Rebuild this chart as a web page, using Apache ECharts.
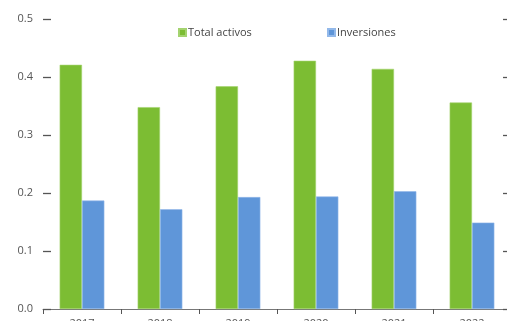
<!DOCTYPE html>
<html><head><meta charset="utf-8">
<script src="https://cdn.jsdelivr.net/npm/echarts@6/dist/echarts.min.js"></script>
<style>html,body{margin:0;padding:0;background:#fff}#c{width:507px;height:321px}</style>
</head><body><div id="c"></div>
<script>
const categories = ['2017','2018','2019','2020','2021','2022'];
const totalActivos = [0.421, 0.348, 0.384, 0.428, 0.414, 0.356];
const inversiones = [0.187, 0.172, 0.193, 0.194, 0.203, 0.149];
const yTicks = [0, 0.1, 0.2, 0.3, 0.4, 0.5];

const chart = echarts.init(document.getElementById('c'), null, {renderer:'canvas'});
const font = 'Open Sans';
const yAxisBase = {
  type:'value', min:0, max:0.5, interval:0.1,
  axisLine:{show:false}, splitLine:{show:false},
  axisTick:{show:true, inside:true, length:8, lineStyle:{color:'#555', width:1.3}}
};
chart.setOption({
  animation:false,
  textStyle:{fontFamily:font},
  legend:[
    {data:['Total activos'], left:173, top:22, itemWidth:7, itemHeight:7, icon:'rect', itemGap:2,
     textStyle:{fontFamily:font, fontSize:11, color:'#444', padding:[0,0,0,-3]}},
    {data:['Inversiones'], left:322, top:22, itemWidth:7, itemHeight:7, icon:'rect', itemGap:2,
     textStyle:{fontFamily:font, fontSize:11, color:'#444', padding:[0,0,0,-3]}}
  ],
  grid:{left:43, top:19, width:468, height:290, containLabel:false, outerBoundsMode:'none'},
  xAxis:{type:'category', data:categories,
    axisLine:{lineStyle:{color:'#777', width:1}},
    axisTick:{show:true, length:5, lineStyle:{color:'#555'}},
    axisLabel:{fontFamily:font, fontSize:11, color:'#555', margin:9}},
  yAxis:[
    Object.assign({}, yAxisBase, {position:'left',
      axisLabel:{fontFamily:font, fontSize:11, color:'#555', margin:10,
        formatter:v=>yTicks.includes(Math.round(v*10)/10)?v.toFixed(1):''}}),
    Object.assign({}, yAxisBase, {position:'right', axisLabel:{show:false}})
  ],
  series:[
    {name:'Total activos', type:'bar', data:totalActivos, barGap:'0%', barCategoryGap:'42.7%',
     itemStyle:{color:'#7cbd33', borderColor:'#a4d36f', borderWidth:0.6}},
    {name:'Inversiones', type:'bar', data:inversiones,
     itemStyle:{color:'#5f96d9', borderColor:'#93b9ea', borderWidth:0.6}}
  ]
});
</script></body></html>
